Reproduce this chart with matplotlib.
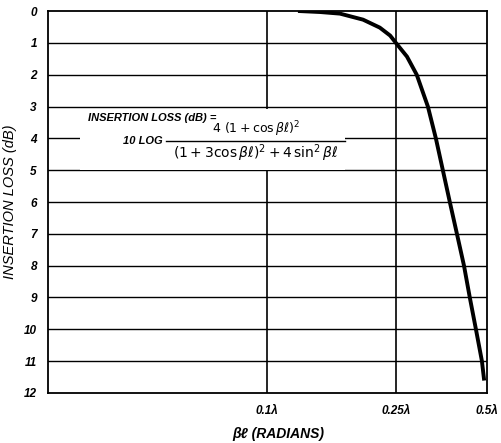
import matplotlib
matplotlib.use("Agg")
import matplotlib.pyplot as plt
import numpy as np

# curve: line length in wavelengths vs insertion loss (dB)
length_lam = [0.1264, 0.146, 0.168, 0.198, 0.223, 0.240, 0.250, 0.272, 0.293,
              0.319, 0.339, 0.3575, 0.377, 0.398, 0.420, 0.439, 0.460, 0.4815, 0.489]
loss_db = [0.0, 0.03, 0.08, 0.27, 0.52, 0.77, 1.0, 1.43, 2.0,
           3.0, 4.0, 5.0, 6.0, 7.0, 8.0, 9.0, 10.0, 11.0, 11.55]

x_ticks = [0.1, 0.25, 0.5]
x_labels = ["0.1\u03bb", "0.25\u03bb", "0.5\u03bb"]
y_ticks = list(range(0, 13))

# the hand-drawn axis is roughly logarithmic, with uneven spacing between ticks
x_edges = np.log10([0.021, 0.1, 0.25, 0.5])
x_place = [0.0, 219.0, 348.0, 439.0]

def fwd(x):
    return np.interp(np.log10(np.clip(x, 1e-6, None)), x_edges, x_place)

def inv(p):
    return 10 ** np.interp(p, x_place, x_edges)

plt.rcParams['font.family'] = ['Liberation Sans', 'DejaVu Sans']
plt.rcParams['mathtext.fontset'] = 'dejavusans'

fig = plt.figure(figsize=(5.01, 4.43), dpi=100)
ax = fig.add_axes([0.0958, 0.113, 0.876, 0.862])

ax.set_xscale('function', functions=(fwd, inv))
ax.set_xlim(0.021, 0.5)
ax.set_ylim(12, 0)

ax.set_xticks(x_ticks)
ax.set_xticklabels(x_labels)
ax.set_xticks([], minor=True)
ax.set_yticks(y_ticks)
ax.set_yticklabels([str(t) for t in y_ticks])
ax.tick_params(length=0, labelsize=8.5)
ax.tick_params(axis='y', pad=8)
ax.tick_params(axis='x', pad=9)
for lab in ax.get_xticklabels() + ax.get_yticklabels():
    lab.set_fontweight('bold')
    lab.set_fontstyle('italic')

for y in y_ticks[1:-1]:
    ax.axhline(y, color='black', lw=1.0, zorder=1)
for x in x_ticks[:-1]:
    ax.axvline(x, color='black', lw=1.2, zorder=1)
for s in ax.spines.values():
    s.set_linewidth(1.3)

ax.plot(length_lam, loss_db, color='black', lw=2.8, zorder=3,
        solid_joinstyle='round')

# formula label, white patch hides the grid behind it
ax.add_patch(plt.Rectangle((0.073, 0.585), 0.604, 0.158, transform=ax.transAxes,
                           facecolor='white', edgecolor='none', zorder=2))
ax.text(0.091, 0.719, "INSERTION LOSS (dB) =", transform=ax.transAxes,
        fontsize=8, fontweight='bold', fontstyle='italic',
        va='center', ha='left', zorder=4)
ax.text(0.171, 0.660, "10 LOG", transform=ax.transAxes,
        fontsize=8, fontweight='bold', fontstyle='italic',
        va='center', ha='left', zorder=4)
ax.text(0.474, 0.665, r"$\mathit{4\ (1+\cos\beta\ell)^2}$",
        transform=ax.transAxes, fontsize=9, va='bottom', ha='center', zorder=4)
ax.plot([0.268, 0.677], [0.661, 0.661], transform=ax.transAxes,
        color='black', lw=1.0, zorder=4)
ax.text(0.474, 0.657, r"$\mathit{(1+3\cos\beta\ell)^2+4\,\sin^2\beta\ell}$",
        transform=ax.transAxes, fontsize=10, va='top', ha='center', zorder=4)

ax.set_ylabel("INSERTION LOSS (dB)", fontsize=10.5, fontstyle='italic', labelpad=5)
ax.set_xlabel("\u03b2\u2113 (RADIANS)", fontsize=10, fontstyle='italic',
              fontweight='bold')
ax.xaxis.set_label_coords(0.524, -0.09)

fig.savefig("out.png", dpi=100)
